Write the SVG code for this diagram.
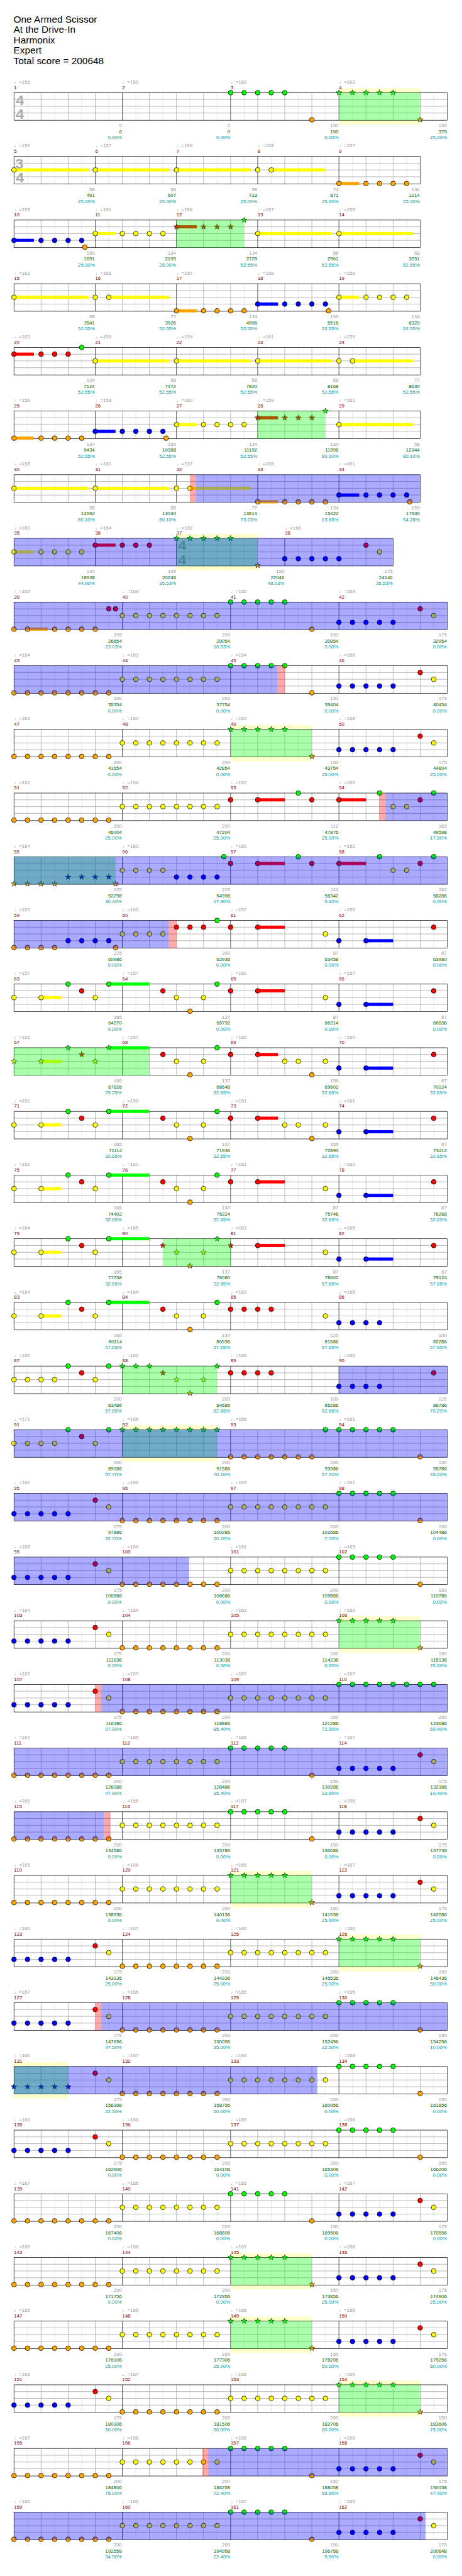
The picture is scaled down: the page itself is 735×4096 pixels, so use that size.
<svg xmlns="http://www.w3.org/2000/svg" xmlns:xlink="http://www.w3.org/1999/xlink" width="735" height="4096" viewBox="0 0 735 4096">
<defs>
<style>
text{font-family:"Liberation Sans","DejaVu Sans",sans-serif;font-size:11px}
.ttl{font-size:21.5px;fill:#000}
.tp{fill:#999}
.mn{fill:#800000}
.gy{fill:#999;text-anchor:end}
.gn{fill:#006400;text-anchor:end}
.tl{fill:#009999;text-anchor:end}
.ts{font-size:32px;font-weight:bold;fill:#aaa}
.lt{stroke:#ddd;fill:none}
.md{stroke:#999;fill:none}
.bk{stroke:#000;fill:none}
.g{fill:#00ff00}.r{fill:#ff0000}.y{fill:#ffff00}.b{fill:#0000ff}.o{fill:#ffa500}
.ob{fill:#0000ff;fill-opacity:.333}
.og{fill:#00ff00;fill-opacity:.333}
.op{fill:#ff0000;fill-opacity:.333}
.yb{fill:#ffffcc}
</style>
<circle id="n" r="5.3" stroke="#000" stroke-width="1"/>
<path id="s" d="M0,-6.5L1.53,-2.1L6.18,-2.01L2.47,0.8L3.82,5.26L0,2.6L-3.82,5.26L-2.47,0.8L-6.18,-2.01L-1.53,-2.1Z" stroke="#000" stroke-width="0.8"/>
<g id="sA">
<rect x="31" y="0" width="900" height="61" fill="#fff"/>
<path class="lt" d="M61 0V61M121 0V61M181 0V61M241 0V61M301 0V61M361 0V61M421 0V61M481 0V61M541 0V61M601 0V61M661 0V61M721 0V61M781 0V61M841 0V61M901 0V61"/>
<path class="md" d="M91 0V61M151 0V61M271 0V61M331 0V61M451 0V61M511 0V61M631 0V61M691 0V61M811 0V61M871 0V61M31 15H931M31 30H931M31 45H931"/>
<path class="bk" d="M211 0V61M391 0V61M571 0V61M751 0V61"/>
<rect class="bk" x="31" y="0" width="900" height="61"/>
</g>
<g id="sB">
<rect x="31" y="0" width="960" height="61" fill="#fff"/>
<path class="lt" d="M61 0V61M121 0V61M181 0V61M241 0V61M301 0V61M361 0V61M421 0V61M481 0V61M541 0V61M601 0V61M661 0V61M721 0V61M781 0V61M841 0V61M901 0V61M961 0V61"/>
<path class="md" d="M91 0V61M151 0V61M211 0V61M331 0V61M391 0V61M451 0V61M571 0V61M631 0V61M691 0V61M811 0V61M871 0V61M931 0V61M31 15H991M31 30H991M31 45H991"/>
<path class="bk" d="M271 0V61M511 0V61M751 0V61"/>
<rect class="bk" x="31" y="0" width="960" height="61"/>
</g>
<g id="sC">
<rect x="31" y="0" width="840" height="61" fill="#fff"/>
<path class="lt" d="M61 0V61M121 0V61M181 0V61M241 0V61M301 0V61M361 0V61M421 0V61M481 0V61M541 0V61M601 0V61M661 0V61M721 0V61M781 0V61M841 0V61"/>
<path class="md" d="M91 0V61M151 0V61M271 0V61M331 0V61M451 0V61M511 0V61M571 0V61M691 0V61M751 0V61M811 0V61M31 15H871M31 30H871M31 45H871"/>
<path class="bk" d="M211 0V61M391 0V61M631 0V61"/>
<rect class="bk" x="31" y="0" width="840" height="61"/>
</g>
<g id="pA"><use href="#n" class="o" x="31" y="60"/><use href="#n" class="o" x="61" y="60"/><use href="#n" class="o" x="91" y="60"/><use href="#n" class="o" x="121" y="60"/><use href="#n" class="o" x="151" y="60"/><use href="#n" class="o" x="181" y="60"/><use href="#n" class="o" x="211" y="60"/><use href="#n" class="o" x="241" y="60"/><use href="#n" class="y" x="271" y="30"/><use href="#n" class="y" x="301" y="30"/><use href="#n" class="y" x="331" y="30"/><use href="#n" class="y" x="361" y="30"/><use href="#n" class="y" x="391" y="30"/><use href="#n" class="y" x="421" y="30"/><use href="#n" class="y" x="451" y="30"/><use href="#n" class="y" x="481" y="30"/></g>
<g id="pG"><use href="#n" class="g" x="511" y="0"/><use href="#n" class="g" x="541" y="0"/><use href="#n" class="g" x="571" y="0"/><use href="#n" class="g" x="601" y="0"/><use href="#n" class="g" x="631" y="0"/><use href="#n" class="o" x="691" y="60"/></g>
<g id="pGs"><use href="#s" class="g" x="511" y="0"/><use href="#s" class="g" x="541" y="0"/><use href="#s" class="g" x="571" y="0"/><use href="#s" class="g" x="601" y="0"/><use href="#s" class="g" x="631" y="0"/><use href="#s" class="o" x="691" y="60"/></g>
<g id="pB"><use href="#n" class="b" x="751" y="45"/><use href="#n" class="b" x="781" y="45"/><use href="#n" class="b" x="811" y="45"/><use href="#n" class="b" x="841" y="45"/><use href="#n" class="b" x="871" y="45"/><use href="#n" class="r" x="931" y="15"/><use href="#n" class="y" x="961" y="30"/></g>
<g id="qA"><use href="#n" class="b" x="31" y="45"/><use href="#n" class="b" x="61" y="45"/><use href="#n" class="b" x="91" y="45"/><use href="#n" class="b" x="121" y="45"/><use href="#n" class="b" x="151" y="45"/><use href="#n" class="r" x="211" y="15"/><use href="#n" class="y" x="241" y="30"/></g>
<g id="qAs"><use href="#s" class="b" x="31" y="45"/><use href="#s" class="b" x="61" y="45"/><use href="#s" class="b" x="91" y="45"/><use href="#s" class="b" x="121" y="45"/><use href="#s" class="b" x="151" y="45"/><use href="#n" class="r" x="211" y="15"/><use href="#n" class="y" x="241" y="30"/></g>
<g id="qO"><use href="#n" class="o" x="271" y="60"/><use href="#n" class="o" x="301" y="60"/><use href="#n" class="o" x="331" y="60"/><use href="#n" class="o" x="361" y="60"/><use href="#n" class="o" x="391" y="60"/><use href="#n" class="o" x="421" y="60"/><use href="#n" class="o" x="451" y="60"/><use href="#n" class="o" x="481" y="60"/></g>
<g id="qY"><use href="#n" class="y" x="511" y="30"/><use href="#n" class="y" x="541" y="30"/><use href="#n" class="y" x="571" y="30"/><use href="#n" class="y" x="601" y="30"/><use href="#n" class="y" x="631" y="30"/><use href="#n" class="y" x="661" y="30"/><use href="#n" class="y" x="691" y="30"/><use href="#n" class="y" x="721" y="30"/></g>
<g id="qG"><use href="#n" class="g" x="751" y="0"/><use href="#n" class="g" x="781" y="0"/><use href="#n" class="g" x="811" y="0"/><use href="#n" class="g" x="841" y="0"/><use href="#n" class="g" x="871" y="0"/><use href="#n" class="o" x="931" y="60"/></g>
<g id="qGs"><use href="#s" class="g" x="751" y="0"/><use href="#s" class="g" x="781" y="0"/><use href="#s" class="g" x="811" y="0"/><use href="#s" class="g" x="841" y="0"/><use href="#s" class="g" x="871" y="0"/><use href="#s" class="o" x="931" y="60"/></g>
</defs>
<rect width="735" height="4096" fill="#fff"/>
<g transform="scale(0.718)">
<g id="title">
<text class="ttl" x="30" y="49.5">One Armed Scissor</text>
<text class="ttl" x="30" y="72.5">At the Drive-In</text>
<text class="ttl" x="30" y="95.5">Harmonix</text>
<text class="ttl" x="30" y="118.5">Expert</text>
<text class="ttl" x="30" y="141.5">Total score = 200648</text>
</g>

<g id="row1" transform="translate(0,205.3)">
<rect class="yb" x="751" y="-10" width="180" height="81"/>
<use href="#sB"/>
<text class="ts" x="35" y="27">4</text><text class="ts" x="35" y="58">4</text>
<text class="tp" x="31" y="-20">♩=156</text><text class="tp" x="271" y="-20">♩=159</text><text class="tp" x="511" y="-20">♩=160</text><text class="tp" x="751" y="-20">♩=162</text>
<text class="mn" x="31" y="-8">1</text><text class="mn" x="271" y="-8">2</text><text class="mn" x="511" y="-8">3</text><text class="mn" x="751" y="-8">4</text>
<use href="#n" class="g" x="511" y="0"/><use href="#n" class="g" x="541" y="0"/><use href="#n" class="g" x="571" y="0"/><use href="#n" class="g" x="601" y="0"/><use href="#n" class="g" x="631" y="0"/>
<use href="#n" class="o" x="691" y="60"/>
<use href="#s" class="g" x="751" y="0"/><use href="#s" class="g" x="781" y="0"/><use href="#s" class="g" x="811" y="0"/><use href="#s" class="g" x="841" y="0"/><use href="#s" class="g" x="871" y="0"/>
<use href="#s" class="o" x="931" y="60"/>
<rect class="og" x="751" y="0" width="180" height="61"/>
<text class="gy" x="270" y="76.5">0</text><text class="gn" x="270" y="90">0</text><text class="tl" x="270" y="103">0.00%</text>
<text class="gy" x="510" y="76.5">0</text><text class="gn" x="510" y="90">0</text><text class="tl" x="510" y="103">0.00%</text>
<text class="gy" x="750" y="76.5">150</text><text class="gn" x="750" y="90">150</text><text class="tl" x="750" y="103">0.00%</text>
<text class="gy" x="990" y="76.5">150</text><text class="gn" x="990" y="90">375</text><text class="tl" x="990" y="103">25.00%</text>
</g>

<g id="row2" transform="translate(0,346.3)">
<use href="#sA"/>
<text class="ts" x="34" y="27">3</text><text class="ts" x="35" y="58">4</text>
<text class="tp" x="31" y="-20">♩=159</text><text class="tp" x="211" y="-20">♩=157</text><text class="tp" x="391" y="-20">♩=159</text><text class="tp" x="571" y="-20">♩=158</text><text class="tp" x="751" y="-20">♩=157</text>
<text class="mn" x="31" y="-8">5</text><text class="mn" x="211" y="-8">6</text><text class="mn" x="391" y="-8">7</text><text class="mn" x="571" y="-8">8</text><text class="mn" x="751" y="-8">9</text>
<rect class="y" x="31" y="26.5" width="165" height="7"/><rect class="y" x="211" y="26.5" width="165" height="7"/><rect class="y" x="391" y="26.5" width="165" height="7"/><rect class="y" x="601" y="26.5" width="120" height="7"/><rect class="o" x="751" y="56.5" width="45" height="7"/>
<use href="#n" class="y" x="31" y="30"/><use href="#n" class="y" x="211" y="30"/><use href="#n" class="y" x="391" y="30"/><use href="#n" class="y" x="571" y="30"/><use href="#n" class="y" x="601" y="30"/>
<use href="#n" class="o" x="751" y="60"/><use href="#n" class="o" x="811" y="60"/><use href="#n" class="o" x="841" y="60"/><use href="#n" class="o" x="871" y="60"/><use href="#n" class="o" x="901" y="60"/>
<text class="gy" x="210" y="76.5">58</text><text class="gn" x="210" y="90">491</text><text class="tl" x="210" y="103">25.00%</text>
<text class="gy" x="390" y="76.5">58</text><text class="gn" x="390" y="90">607</text><text class="tl" x="390" y="103">25.00%</text>
<text class="gy" x="570" y="76.5">58</text><text class="gn" x="570" y="90">723</text><text class="tl" x="570" y="103">25.00%</text>
<text class="gy" x="750" y="76.5">74</text><text class="gn" x="750" y="90">871</text><text class="tl" x="750" y="103">25.00%</text>
<text class="gy" x="930" y="76.5">134</text><text class="gn" x="930" y="90">1214</text><text class="tl" x="930" y="103">25.00%</text>
</g>

<g id="row3" transform="translate(0,487.3)">
<use href="#sA"/>
<text class="tp" x="31" y="-20">♩=158</text><text class="tp" x="211" y="-20">♩=161</text><text class="tp" x="391" y="-20">♩=159</text><text class="tp" x="571" y="-20">♩=157</text><text class="tp" x="751" y="-20">♩=159</text>
<text class="mn" x="31" y="-8">10</text><text class="mn" x="211" y="-8">11</text><text class="mn" x="391" y="-8">12</text><text class="mn" x="571" y="-8">13</text><text class="mn" x="751" y="-8">14</text>
<rect class="b" x="31" y="41.5" width="44" height="7"/><rect class="y" x="211" y="26.5" width="45" height="7"/><rect class="r" x="391" y="11.5" width="45" height="7"/><rect class="y" x="571" y="26.5" width="165" height="7"/><rect class="y" x="751" y="26.5" width="165" height="7"/>
<use href="#n" class="b" x="31" y="45"/><use href="#n" class="b" x="91" y="45"/><use href="#n" class="b" x="121" y="45"/><use href="#n" class="b" x="151" y="45"/><use href="#n" class="b" x="181" y="45"/><use href="#n" class="o" x="188" y="60"/>
<use href="#n" class="y" x="211" y="30"/><use href="#n" class="y" x="271" y="30"/><use href="#n" class="y" x="301" y="30"/><use href="#n" class="y" x="331" y="30"/><use href="#n" class="y" x="361" y="30"/>
<use href="#s" class="r" x="391" y="15"/><use href="#s" class="r" x="451" y="15"/><use href="#s" class="r" x="481" y="15"/><use href="#s" class="r" x="511" y="15"/><use href="#s" class="g" x="541" y="0"/>
<use href="#n" class="y" x="571" y="30"/><use href="#n" class="y" x="751" y="30"/>
<rect class="og" x="391" y="0" width="150" height="61"/>
<text class="gy" x="210" y="76.5">159</text><text class="gn" x="210" y="90">1691</text><text class="tl" x="210" y="103">25.00%</text>
<text class="gy" x="390" y="76.5">134</text><text class="gn" x="390" y="90">2193</text><text class="tl" x="390" y="103">25.00%</text>
<text class="gy" x="570" y="76.5">134</text><text class="gn" x="570" y="90">2729</text><text class="tl" x="570" y="103">52.55%</text>
<text class="gy" x="750" y="76.5">58</text><text class="gn" x="750" y="90">2961</text><text class="tl" x="750" y="103">52.55%</text>
<text class="gy" x="930" y="76.5">58</text><text class="gn" x="930" y="90">3251</text><text class="tl" x="930" y="103">52.55%</text>
</g>

<g id="row4" transform="translate(0,628.3)">
<use href="#sA"/>
<text class="tp" x="31" y="-20">♩=161</text><text class="tp" x="211" y="-20">♩=158</text><text class="tp" x="391" y="-20">♩=157</text><text class="tp" x="571" y="-20">♩=159</text><text class="tp" x="751" y="-20">♩=159</text>
<text class="mn" x="31" y="-8">15</text><text class="mn" x="211" y="-8">16</text><text class="mn" x="391" y="-8">17</text><text class="mn" x="571" y="-8">18</text><text class="mn" x="751" y="-8">19</text>
<rect class="y" x="31" y="26.5" width="165" height="7"/><rect class="y" x="241" y="26.5" width="135" height="7"/><rect class="o" x="391" y="56.5" width="45" height="7"/><rect class="b" x="571" y="41.5" width="45" height="7"/><rect class="y" x="751" y="26.5" width="45" height="7"/>
<use href="#n" class="y" x="31" y="30"/><use href="#n" class="y" x="211" y="30"/><use href="#n" class="y" x="241" y="30"/>
<use href="#n" class="o" x="391" y="60"/><use href="#n" class="o" x="451" y="60"/><use href="#n" class="o" x="481" y="60"/><use href="#n" class="o" x="511" y="60"/><use href="#n" class="o" x="541" y="60"/>
<use href="#n" class="b" x="571" y="45"/><use href="#n" class="b" x="631" y="45"/><use href="#n" class="b" x="661" y="45"/><use href="#n" class="b" x="691" y="45"/><use href="#n" class="b" x="721" y="45"/><use href="#n" class="o" x="728" y="60"/>
<use href="#n" class="y" x="751" y="30"/><use href="#n" class="y" x="811" y="30"/><use href="#n" class="y" x="841" y="30"/><use href="#n" class="y" x="871" y="30"/><use href="#n" class="y" x="901" y="30"/>
<text class="gy" x="210" y="76.5">58</text><text class="gn" x="210" y="90">3541</text><text class="tl" x="210" y="103">52.55%</text>
<text class="gy" x="390" y="76.5">77</text><text class="gn" x="390" y="90">3926</text><text class="tl" x="390" y="103">52.55%</text>
<text class="gy" x="570" y="76.5">134</text><text class="gn" x="570" y="90">4596</text><text class="tl" x="570" y="103">52.55%</text>
<text class="gy" x="750" y="76.5">159</text><text class="gn" x="750" y="90">5516</text><text class="tl" x="750" y="103">52.55%</text>
<text class="gy" x="930" y="76.5">134</text><text class="gn" x="930" y="90">6320</text><text class="tl" x="930" y="103">52.55%</text>
</g>

<g id="row5" transform="translate(0,769.3)">
<use href="#sA"/>
<text class="tp" x="31" y="-20">♩=163</text><text class="tp" x="211" y="-20">♩=155</text><text class="tp" x="391" y="-20">♩=159</text><text class="tp" x="571" y="-20">♩=161</text><text class="tp" x="751" y="-20">♩=159</text>
<text class="mn" x="31" y="-8">20</text><text class="mn" x="211" y="-8">21</text><text class="mn" x="391" y="-8">22</text><text class="mn" x="571" y="-8">23</text><text class="mn" x="751" y="-8">24</text>
<rect class="r" x="31" y="11.5" width="44" height="7"/><rect class="y" x="211" y="26.5" width="165" height="7"/><rect class="y" x="391" y="26.5" width="165" height="7"/><rect class="y" x="571" y="26.5" width="165" height="7"/><rect class="y" x="781" y="26.5" width="135" height="7"/>
<use href="#n" class="r" x="31" y="15"/><use href="#n" class="r" x="91" y="15"/><use href="#n" class="r" x="121" y="15"/><use href="#n" class="r" x="151" y="15"/><use href="#n" class="g" x="181" y="0"/>
<use href="#n" class="y" x="211" y="30"/><use href="#n" class="y" x="391" y="30"/><use href="#n" class="y" x="571" y="30"/><use href="#n" class="y" x="751" y="30"/><use href="#n" class="y" x="781" y="30"/>
<text class="gy" x="210" y="76.5">134</text><text class="gn" x="210" y="90">7124</text><text class="tl" x="210" y="103">52.55%</text>
<text class="gy" x="390" y="76.5">58</text><text class="gn" x="390" y="90">7472</text><text class="tl" x="390" y="103">52.55%</text>
<text class="gy" x="570" y="76.5">58</text><text class="gn" x="570" y="90">7820</text><text class="tl" x="570" y="103">52.55%</text>
<text class="gy" x="750" y="76.5">58</text><text class="gn" x="750" y="90">8168</text><text class="tl" x="750" y="103">52.55%</text>
<text class="gy" x="930" y="76.5">77</text><text class="gn" x="930" y="90">8630</text><text class="tl" x="930" y="103">52.55%</text>
</g>

<g id="row6" transform="translate(0,910.3)">
<use href="#sA"/>
<text class="tp" x="31" y="-20">♩=156</text><text class="tp" x="211" y="-20">♩=158</text><text class="tp" x="391" y="-20">♩=160</text><text class="tp" x="571" y="-20">♩=159</text><text class="tp" x="751" y="-20">♩=161</text>
<text class="mn" x="31" y="-8">25</text><text class="mn" x="211" y="-8">26</text><text class="mn" x="391" y="-8">27</text><text class="mn" x="571" y="-8">28</text><text class="mn" x="751" y="-8">29</text>
<rect class="o" x="31" y="56.5" width="44" height="7"/><rect class="b" x="211" y="41.5" width="45" height="7"/><rect class="y" x="391" y="26.5" width="45" height="7"/><rect class="r" x="571" y="11.5" width="45" height="7"/><rect class="y" x="751" y="26.5" width="165" height="7"/>
<use href="#n" class="o" x="31" y="60"/><use href="#n" class="o" x="91" y="60"/><use href="#n" class="o" x="121" y="60"/><use href="#n" class="o" x="151" y="60"/><use href="#n" class="o" x="181" y="60"/>
<use href="#n" class="b" x="211" y="45"/><use href="#n" class="b" x="271" y="45"/><use href="#n" class="b" x="301" y="45"/><use href="#n" class="b" x="331" y="45"/><use href="#n" class="b" x="361" y="45"/><use href="#n" class="o" x="368" y="60"/>
<use href="#n" class="y" x="391" y="30"/><use href="#n" class="y" x="451" y="30"/><use href="#n" class="y" x="481" y="30"/><use href="#n" class="y" x="511" y="30"/><use href="#n" class="y" x="541" y="30"/>
<use href="#s" class="r" x="571" y="15"/><use href="#s" class="r" x="631" y="15"/><use href="#s" class="r" x="661" y="15"/><use href="#s" class="r" x="691" y="15"/><use href="#s" class="g" x="721" y="0"/>
<use href="#n" class="y" x="751" y="30"/>
<rect class="og" x="571" y="0" width="150" height="61"/>
<text class="gy" x="210" y="76.5">134</text><text class="gn" x="210" y="90">9434</text><text class="tl" x="210" y="103">52.55%</text>
<text class="gy" x="390" y="76.5">159</text><text class="gn" x="390" y="90">10388</text><text class="tl" x="390" y="103">52.55%</text>
<text class="gy" x="570" y="76.5">134</text><text class="gn" x="570" y="90">11192</text><text class="tl" x="570" y="103">52.55%</text>
<text class="gy" x="750" y="76.5">134</text><text class="gn" x="750" y="90">11996</text><text class="tl" x="750" y="103">80.10%</text>
<text class="gy" x="930" y="76.5">58</text><text class="gn" x="930" y="90">12344</text><text class="tl" x="930" y="103">80.10%</text>
</g>

<g id="row7" transform="translate(0,1051.3)">
<use href="#sA"/>
<text class="tp" x="31" y="-20">♩=158</text><text class="tp" x="211" y="-20">♩=161</text><text class="tp" x="391" y="-20">♩=157</text><text class="tp" x="571" y="-20">♩=155</text><text class="tp" x="751" y="-20">♩=161</text>
<text class="mn" x="31" y="-8">30</text><text class="mn" x="211" y="-8">31</text><text class="mn" x="391" y="-8">32</text><text class="mn" x="571" y="-8">33</text><text class="mn" x="751" y="-8">34</text>
<rect class="y" x="31" y="26.5" width="165" height="7"/><rect class="y" x="211" y="26.5" width="165" height="7"/><rect class="y" x="421" y="26.5" width="135" height="7"/><rect class="o" x="571" y="56.5" width="45" height="7"/><rect class="b" x="751" y="41.5" width="45" height="7"/>
<use href="#n" class="y" x="31" y="30"/><use href="#n" class="y" x="211" y="30"/><use href="#n" class="y" x="391" y="30"/><use href="#n" class="y" x="421" y="30"/>
<use href="#n" class="o" x="571" y="60"/><use href="#n" class="o" x="631" y="60"/><use href="#n" class="o" x="661" y="60"/><use href="#n" class="o" x="691" y="60"/><use href="#n" class="o" x="721" y="60"/>
<use href="#n" class="b" x="751" y="45"/><use href="#n" class="b" x="811" y="45"/><use href="#n" class="b" x="841" y="45"/><use href="#n" class="b" x="871" y="45"/><use href="#n" class="b" x="901" y="45"/><use href="#n" class="o" x="908" y="60"/>
<rect class="op" x="421" y="0" width="13" height="61"/><rect class="ob" x="434" y="0" width="497" height="61"/>
<text class="gy" x="210" y="76.5">58</text><text class="gn" x="210" y="90">12692</text><text class="tl" x="210" y="103">80.10%</text>
<text class="gy" x="390" y="76.5">58</text><text class="gn" x="390" y="90">13040</text><text class="tl" x="390" y="103">80.10%</text>
<text class="gy" x="570" y="76.5">77</text><text class="gn" x="570" y="90">13814</text><text class="tl" x="570" y="103">73.03%</text>
<text class="gy" x="750" y="76.5">134</text><text class="gn" x="750" y="90">15422</text><text class="tl" x="750" y="103">63.65%</text>
<text class="gy" x="930" y="76.5">159</text><text class="gn" x="930" y="90">17330</text><text class="tl" x="930" y="103">54.28%</text>
</g>

<g id="row8" transform="translate(0,1192.3)">
<rect class="yb" x="391" y="-10" width="180" height="81"/>
<use href="#sC"/>
<text class="ts" x="395" y="27">4</text><text class="ts" x="395" y="58">4</text>
<text class="tp" x="31" y="-20">♩=160</text><text class="tp" x="211" y="-20">♩=164</text><text class="tp" x="391" y="-20">♩=162</text><text class="tp" x="631" y="-20">♩=166</text>
<text class="mn" x="31" y="-8">35</text><text class="mn" x="211" y="-8">36</text><text class="mn" x="391" y="-8">37</text><text class="mn" x="631" y="-8">38</text>
<rect class="y" x="31" y="26.5" width="44" height="7"/><rect class="r" x="211" y="11.5" width="45" height="7"/>
<use href="#n" class="y" x="31" y="30"/><use href="#n" class="y" x="91" y="30"/><use href="#n" class="y" x="121" y="30"/><use href="#n" class="y" x="151" y="30"/><use href="#n" class="y" x="181" y="30"/>
<use href="#n" class="r" x="211" y="15"/><use href="#n" class="r" x="271" y="15"/><use href="#n" class="r" x="301" y="15"/><use href="#n" class="r" x="331" y="15"/>
<use href="#s" class="g" x="391" y="0"/><use href="#s" class="g" x="421" y="0"/><use href="#s" class="g" x="451" y="0"/><use href="#s" class="g" x="481" y="0"/><use href="#s" class="g" x="511" y="0"/><use href="#s" class="o" x="571" y="60"/>
<use href="#n" class="b" x="631" y="45"/><use href="#n" class="b" x="661" y="45"/><use href="#n" class="b" x="691" y="45"/><use href="#n" class="b" x="721" y="45"/><use href="#n" class="b" x="751" y="45"/>
<use href="#n" class="r" x="811" y="15"/><use href="#n" class="y" x="841" y="30"/>
<rect class="og" x="391" y="0" width="180" height="61"/><rect class="ob" x="31" y="0" width="840" height="61"/>
<text class="gy" x="210" y="76.5">134</text><text class="gn" x="210" y="90">18938</text><text class="tl" x="210" y="103">44.90%</text>
<text class="gy" x="390" y="76.5">109</text><text class="gn" x="390" y="90">20246</text><text class="tl" x="390" y="103">35.53%</text>
<text class="gy" x="630" y="76.5">150</text><text class="gn" x="630" y="90">22046</text><text class="tl" x="630" y="103">48.03%</text>
<text class="gy" x="870" y="76.5">175</text><text class="gn" x="870" y="90">24146</text><text class="tl" x="870" y="103">35.53%</text>
</g>

<g id="row9" transform="translate(0,1333.3)">
<use href="#sB"/>
<text class="tp" x="31" y="-20">♩=165</text><text class="tp" x="271" y="-20">♩=163</text><text class="tp" x="511" y="-20">♩=165</text><text class="tp" x="751" y="-20">♩=169</text>
<text class="mn" x="31" y="-8">39</text><text class="mn" x="271" y="-8">40</text><text class="mn" x="511" y="-8">41</text><text class="mn" x="751" y="-8">42</text>
<rect class="o" x="61" y="56.5" width="45" height="7"/>
<use href="#n" class="o" x="31" y="60"/><use href="#n" class="o" x="61" y="60"/><use href="#n" class="o" x="121" y="60"/><use href="#n" class="o" x="151" y="60"/><use href="#n" class="o" x="181" y="60"/><use href="#n" class="o" x="211" y="60"/>
<use href="#n" class="r" x="241" y="15"/><use href="#n" class="r" x="256" y="15"/>
<use href="#n" class="y" x="271" y="30"/><use href="#n" class="y" x="301" y="30"/><use href="#n" class="y" x="331" y="30"/><use href="#n" class="y" x="361" y="30"/><use href="#n" class="y" x="391" y="30"/><use href="#n" class="y" x="421" y="30"/><use href="#n" class="y" x="451" y="30"/><use href="#n" class="y" x="481" y="30"/>
<use href="#n" class="g" x="511" y="0"/><use href="#n" class="g" x="541" y="0"/><use href="#n" class="g" x="571" y="0"/><use href="#n" class="g" x="601" y="0"/><use href="#n" class="g" x="631" y="0"/>
<use href="#n" class="o" x="691" y="60"/>
<use href="#n" class="b" x="751" y="45"/><use href="#n" class="b" x="781" y="45"/><use href="#n" class="b" x="811" y="45"/><use href="#n" class="b" x="841" y="45"/><use href="#n" class="b" x="871" y="45"/>
<use href="#n" class="r" x="931" y="15"/><use href="#n" class="y" x="961" y="30"/>
<rect class="ob" x="31" y="0" width="960" height="61"/>
<text class="gy" x="270" y="76.5">209</text><text class="gn" x="270" y="90">26654</text><text class="tl" x="270" y="103">23.03%</text>
<text class="gy" x="510" y="76.5">200</text><text class="gn" x="510" y="90">29054</text><text class="tl" x="510" y="103">10.53%</text>
<text class="gy" x="750" y="76.5">150</text><text class="gn" x="750" y="90">30854</text><text class="tl" x="750" y="103">0.00%</text>
<text class="gy" x="990" y="76.5">175</text><text class="gn" x="990" y="90">32954</text><text class="tl" x="990" y="103">0.00%</text>
</g>

<g id="row10" transform="translate(0,1474.3)">
<use href="#sB"/>
<text class="tp" x="31" y="-20">♩=164</text><text class="tp" x="271" y="-20">♩=163</text><text class="tp" x="511" y="-20">♩=164</text><text class="tp" x="751" y="-20">♩=166</text>
<text class="mn" x="31" y="-8">43</text><text class="mn" x="271" y="-8">44</text><text class="mn" x="511" y="-8">45</text><text class="mn" x="751" y="-8">46</text>
<use href="#pA"/><use href="#pG"/><use href="#pB"/>
<rect class="ob" x="31" y="0" width="584" height="61"/><rect class="op" x="615" y="0" width="16.5" height="61"/>
<text class="gy" x="270" y="76.5">200</text><text class="gn" x="270" y="90">35354</text><text class="tl" x="270" y="103">0.00%</text>
<text class="gy" x="510" y="76.5">200</text><text class="gn" x="510" y="90">37754</text><text class="tl" x="510" y="103">0.00%</text>
<text class="gy" x="750" y="76.5">150</text><text class="gn" x="750" y="90">39404</text><text class="tl" x="750" y="103">0.00%</text>
<text class="gy" x="990" y="76.5">175</text><text class="gn" x="990" y="90">40454</text><text class="tl" x="990" y="103">0.00%</text>
</g>

<g id="row11" transform="translate(0,1615.3)">
<rect class="yb" x="511" y="-10" width="180" height="81"/>
<use href="#sB"/>
<text class="tp" x="31" y="-20">♩=163</text><text class="tp" x="271" y="-20">♩=162</text><text class="tp" x="511" y="-20">♩=163</text><text class="tp" x="751" y="-20">♩=168</text>
<text class="mn" x="31" y="-8">47</text><text class="mn" x="271" y="-8">48</text><text class="mn" x="511" y="-8">49</text><text class="mn" x="751" y="-8">50</text>
<use href="#pA"/><use href="#pGs"/><use href="#pB"/>
<rect class="og" x="511" y="0" width="180" height="61"/>
<text class="gy" x="270" y="76.5">200</text><text class="gn" x="270" y="90">41654</text><text class="tl" x="270" y="103">0.00%</text>
<text class="gy" x="510" y="76.5">200</text><text class="gn" x="510" y="90">42854</text><text class="tl" x="510" y="103">0.00%</text>
<text class="gy" x="750" y="76.5">150</text><text class="gn" x="750" y="90">43754</text><text class="tl" x="750" y="103">25.00%</text>
<text class="gy" x="990" y="76.5">175</text><text class="gn" x="990" y="90">44804</text><text class="tl" x="990" y="103">25.00%</text>
</g>

<g id="row12" transform="translate(0,1756.3)">
<use href="#sB"/>
<text class="tp" x="31" y="-20">♩=162</text><text class="tp" x="271" y="-20">♩=166</text><text class="tp" x="511" y="-20">♩=157</text><text class="tp" x="751" y="-20">♩=162</text>
<text class="mn" x="31" y="-8">51</text><text class="mn" x="271" y="-8">52</text><text class="mn" x="511" y="-8">53</text><text class="mn" x="751" y="-8">54</text>
<rect class="r" x="571" y="11.5" width="60" height="7"/><rect class="r" x="751" y="11.5" width="60" height="7"/>
<use href="#pA"/>
<use href="#n" class="r" x="511" y="15"/><use href="#n" class="r" x="571" y="15"/><use href="#n" class="g" x="661" y="0"/><use href="#n" class="r" x="691" y="15"/><use href="#n" class="r" x="751" y="15"/>
<use href="#n" class="g" x="841" y="0"/><use href="#n" class="y" x="871" y="30"/><use href="#n" class="y" x="901" y="30"/><use href="#n" class="r" x="931" y="15"/><use href="#n" class="g" x="961" y="0"/>
<rect class="op" x="840" y="0" width="14" height="61"/><rect class="ob" x="854" y="0" width="137" height="61"/>
<text class="gy" x="270" y="76.5">200</text><text class="gn" x="270" y="90">46004</text><text class="tl" x="270" y="103">25.00%</text>
<text class="gy" x="510" y="76.5">200</text><text class="gn" x="510" y="90">47204</text><text class="tl" x="510" y="103">25.00%</text>
<text class="gy" x="750" y="76.5">112</text><text class="gn" x="750" y="90">47876</text><text class="tl" x="750" y="103">25.00%</text>
<text class="gy" x="990" y="76.5">162</text><text class="gn" x="990" y="90">49598</text><text class="tl" x="990" y="103">17.90%</text>
</g>

<g id="row13" transform="translate(0,1897.3)">
<use href="#sB"/>
<text class="tp" x="31" y="-20">♩=164</text><text class="tp" x="271" y="-20">♩=162</text><text class="tp" x="511" y="-20">♩=160</text><text class="tp" x="751" y="-20">♩=162</text>
<text class="mn" x="31" y="-8">55</text><text class="mn" x="271" y="-8">56</text><text class="mn" x="511" y="-8">57</text><text class="mn" x="751" y="-8">58</text>
<rect class="r" x="571" y="11.5" width="60" height="7"/><rect class="r" x="751" y="11.5" width="60" height="7"/>
<use href="#s" class="o" x="31" y="60"/><use href="#s" class="o" x="61" y="60"/><use href="#s" class="o" x="91" y="60"/><use href="#s" class="o" x="121" y="60"/>
<use href="#s" class="b" x="151" y="45"/><use href="#s" class="b" x="181" y="45"/><use href="#s" class="b" x="211" y="45"/><use href="#s" class="b" x="241" y="45"/><use href="#s" class="o" x="256" y="60"/>
<use href="#n" class="y" x="271" y="30"/><use href="#n" class="y" x="301" y="30"/><use href="#n" class="y" x="331" y="30"/><use href="#n" class="y" x="361" y="30"/>
<use href="#n" class="b" x="391" y="45"/><use href="#n" class="b" x="421" y="45"/><use href="#n" class="b" x="451" y="45"/><use href="#n" class="b" x="481" y="45"/><use href="#n" class="g" x="496" y="0"/>
<use href="#n" class="r" x="511" y="15"/><use href="#n" class="r" x="571" y="15"/><use href="#n" class="g" x="661" y="0"/><use href="#n" class="r" x="691" y="15"/><use href="#n" class="r" x="751" y="15"/>
<use href="#n" class="g" x="841" y="0"/><use href="#n" class="y" x="871" y="30"/><use href="#n" class="y" x="901" y="30"/><use href="#n" class="r" x="931" y="15"/><use href="#n" class="g" x="961" y="0"/>
<rect class="og" x="31" y="0" width="225" height="61"/><rect class="ob" x="31" y="0" width="960" height="61"/>
<text class="gy" x="270" y="76.5">225</text><text class="gn" x="270" y="90">52298</text><text class="tl" x="270" y="103">30.40%</text>
<text class="gy" x="510" y="76.5">225</text><text class="gn" x="510" y="90">54998</text><text class="tl" x="510" y="103">17.90%</text>
<text class="gy" x="750" y="76.5">112</text><text class="gn" x="750" y="90">56342</text><text class="tl" x="750" y="103">5.40%</text>
<text class="gy" x="990" y="76.5">162</text><text class="gn" x="990" y="90">58286</text><text class="tl" x="990" y="103">0.00%</text>
</g>

<g id="row14" transform="translate(0,2038.3)">
<use href="#sB"/>
<text class="tp" x="31" y="-20">♩=163</text><text class="tp" x="271" y="-20">♩=165</text><text class="tp" x="511" y="-20">♩=157</text><text class="tp" x="751" y="-20">♩=159</text>
<text class="mn" x="31" y="-8">59</text><text class="mn" x="271" y="-8">60</text><text class="mn" x="511" y="-8">61</text><text class="mn" x="751" y="-8">62</text>
<rect class="r" x="571" y="11.5" width="60" height="7"/><rect class="b" x="811" y="41.5" width="60" height="7"/>
<use href="#n" class="o" x="31" y="60"/><use href="#n" class="o" x="61" y="60"/><use href="#n" class="o" x="91" y="60"/><use href="#n" class="o" x="121" y="60"/>
<use href="#n" class="b" x="151" y="45"/><use href="#n" class="b" x="181" y="45"/><use href="#n" class="b" x="211" y="45"/><use href="#n" class="b" x="241" y="45"/><use href="#n" class="o" x="256" y="60"/>
<use href="#n" class="y" x="271" y="30"/><use href="#n" class="y" x="301" y="30"/><use href="#n" class="y" x="331" y="30"/><use href="#n" class="y" x="361" y="30"/>
<use href="#n" class="r" x="391" y="15"/><use href="#n" class="r" x="421" y="15"/><use href="#n" class="r" x="451" y="15"/><use href="#n" class="g" x="481" y="0"/><use href="#n" class="r" x="511" y="15"/><use href="#n" class="r" x="571" y="15"/>
<use href="#n" class="y" x="721" y="30"/><use href="#n" class="b" x="751" y="45"/><use href="#n" class="b" x="811" y="45"/><use href="#n" class="r" x="961" y="15"/>
<rect class="ob" x="31" y="0" width="343" height="61"/><rect class="op" x="374" y="0" width="17" height="61"/>
<text class="gy" x="270" y="76.5">225</text><text class="gn" x="270" y="90">60986</text><text class="tl" x="270" y="103">0.00%</text>
<text class="gy" x="510" y="76.5">200</text><text class="gn" x="510" y="90">62936</text><text class="tl" x="510" y="103">0.00%</text>
<text class="gy" x="750" y="76.5">87</text><text class="gn" x="750" y="90">63458</text><text class="tl" x="750" y="103">0.00%</text>
<text class="gy" x="990" y="76.5">87</text><text class="gn" x="990" y="90">63980</text><text class="tl" x="990" y="103">0.00%</text>
</g>

<g id="row15" transform="translate(0,2179.3)">
<use href="#sB"/>
<text class="tp" x="31" y="-20">♩=157</text><text class="tp" x="271" y="-20">♩=157</text><text class="tp" x="511" y="-20">♩=160</text><text class="tp" x="751" y="-20">♩=157</text>
<text class="mn" x="31" y="-8">63</text><text class="mn" x="271" y="-8">64</text><text class="mn" x="511" y="-8">65</text><text class="mn" x="751" y="-8">66</text>
<rect class="y" x="91" y="26.5" width="45" height="7"/><rect class="g" x="241" y="-3.5" width="90" height="7"/><rect class="r" x="571" y="11.5" width="60" height="7"/><rect class="b" x="811" y="41.5" width="60" height="7"/>
<use href="#n" class="y" x="31" y="30"/><use href="#n" class="y" x="91" y="30"/><use href="#n" class="g" x="151" y="0"/><use href="#n" class="r" x="181" y="15"/><use href="#n" class="y" x="211" y="30"/><use href="#n" class="g" x="241" y="0"/>
<use href="#n" class="r" x="361" y="15"/><use href="#n" class="y" x="391" y="30"/><use href="#n" class="o" x="421" y="60"/><use href="#n" class="y" x="451" y="30"/><use href="#n" class="g" x="481" y="0"/>
<use href="#n" class="r" x="511" y="15"/><use href="#n" class="r" x="571" y="15"/><use href="#n" class="y" x="721" y="30"/><use href="#n" class="b" x="751" y="45"/><use href="#n" class="b" x="811" y="45"/><use href="#n" class="r" x="961" y="15"/>
<text class="gy" x="270" y="76.5">165</text><text class="gn" x="270" y="90">64970</text><text class="tl" x="270" y="103">0.00%</text>
<text class="gy" x="510" y="76.5">137</text><text class="gn" x="510" y="90">65792</text><text class="tl" x="510" y="103">0.00%</text>
<text class="gy" x="750" y="76.5">87</text><text class="gn" x="750" y="90">66314</text><text class="tl" x="750" y="103">0.00%</text>
<text class="gy" x="990" y="76.5">87</text><text class="gn" x="990" y="90">66836</text><text class="tl" x="990" y="103">0.00%</text>
</g>

<g id="row16" transform="translate(0,2320.3)">
<use href="#sB"/>
<text class="tp" x="31" y="-20">♩=161</text><text class="tp" x="271" y="-20">♩=157</text><text class="tp" x="511" y="-20">♩=160</text><text class="tp" x="751" y="-20">♩=160</text>
<text class="mn" x="31" y="-8">67</text><text class="mn" x="271" y="-8">68</text><text class="mn" x="511" y="-8">69</text><text class="mn" x="751" y="-8">70</text>
<rect class="y" x="91" y="26.5" width="45" height="7"/><rect class="g" x="241" y="-3.5" width="90" height="7"/><rect class="r" x="571" y="11.5" width="45" height="7"/><rect class="b" x="811" y="41.5" width="60" height="7"/>
<use href="#s" class="y" x="31" y="30"/><use href="#s" class="y" x="91" y="30"/><use href="#s" class="g" x="151" y="0"/><use href="#s" class="r" x="181" y="15"/><use href="#s" class="y" x="211" y="30"/><use href="#s" class="g" x="241" y="0"/>
<use href="#n" class="r" x="361" y="15"/><use href="#n" class="y" x="391" y="30"/><use href="#n" class="o" x="421" y="60"/><use href="#n" class="y" x="451" y="30"/><use href="#n" class="g" x="481" y="0"/>
<use href="#n" class="r" x="511" y="15"/><use href="#n" class="r" x="571" y="15"/><use href="#n" class="y" x="631" y="30"/><use href="#n" class="y" x="661" y="30"/><use href="#n" class="o" x="691" y="60"/><use href="#n" class="y" x="721" y="30"/>
<use href="#n" class="b" x="751" y="45"/><use href="#n" class="b" x="811" y="45"/><use href="#n" class="r" x="961" y="15"/>
<rect class="og" x="31" y="0" width="300" height="61"/>
<text class="gy" x="270" y="76.5">165</text><text class="gn" x="270" y="90">67826</text><text class="tl" x="270" y="103">29.25%</text>
<text class="gy" x="510" y="76.5">137</text><text class="gn" x="510" y="90">68648</text><text class="tl" x="510" y="103">32.65%</text>
<text class="gy" x="750" y="76.5">159</text><text class="gn" x="750" y="90">69602</text><text class="tl" x="750" y="103">32.65%</text>
<text class="gy" x="990" y="76.5">87</text><text class="gn" x="990" y="90">70124</text><text class="tl" x="990" y="103">32.65%</text>
</g>

<g id="row17" transform="translate(0,2461.3)">
<use href="#sB"/>
<text class="tp" x="31" y="-20">♩=160</text><text class="tp" x="271" y="-20">♩=155</text><text class="tp" x="511" y="-20">♩=161</text><text class="tp" x="751" y="-20">♩=161</text>
<text class="mn" x="31" y="-8">71</text><text class="mn" x="271" y="-8">72</text><text class="mn" x="511" y="-8">73</text><text class="mn" x="751" y="-8">74</text>
<rect class="y" x="91" y="26.5" width="45" height="7"/><rect class="g" x="241" y="-3.5" width="90" height="7"/><rect class="r" x="571" y="11.5" width="45" height="7"/><rect class="b" x="811" y="41.5" width="60" height="7"/>
<use href="#n" class="y" x="31" y="30"/><use href="#n" class="y" x="91" y="30"/><use href="#n" class="g" x="151" y="0"/><use href="#n" class="r" x="181" y="15"/><use href="#n" class="y" x="211" y="30"/><use href="#n" class="g" x="241" y="0"/>
<use href="#n" class="r" x="361" y="15"/><use href="#n" class="y" x="391" y="30"/><use href="#n" class="o" x="421" y="60"/><use href="#n" class="y" x="451" y="30"/><use href="#n" class="g" x="481" y="0"/>
<use href="#n" class="r" x="511" y="15"/><use href="#n" class="r" x="571" y="15"/><use href="#n" class="y" x="631" y="30"/><use href="#n" class="y" x="661" y="30"/><use href="#n" class="o" x="691" y="60"/><use href="#n" class="y" x="721" y="30"/>
<use href="#n" class="b" x="751" y="45"/><use href="#n" class="b" x="811" y="45"/><use href="#n" class="r" x="961" y="15"/>
<text class="gy" x="270" y="76.5">165</text><text class="gn" x="270" y="90">71114</text><text class="tl" x="270" y="103">32.65%</text>
<text class="gy" x="510" y="76.5">137</text><text class="gn" x="510" y="90">71936</text><text class="tl" x="510" y="103">32.65%</text>
<text class="gy" x="750" y="76.5">159</text><text class="gn" x="750" y="90">72890</text><text class="tl" x="750" y="103">32.65%</text>
<text class="gy" x="990" y="76.5">87</text><text class="gn" x="990" y="90">73412</text><text class="tl" x="990" y="103">32.65%</text>
</g>

<g id="row18" transform="translate(0,2602.3)">
<use href="#sB"/>
<text class="tp" x="31" y="-20">♩=161</text><text class="tp" x="271" y="-20">♩=161</text><text class="tp" x="511" y="-20">♩=161</text><text class="tp" x="751" y="-20">♩=162</text>
<text class="mn" x="31" y="-8">75</text><text class="mn" x="271" y="-8">76</text><text class="mn" x="511" y="-8">77</text><text class="mn" x="751" y="-8">78</text>
<rect class="y" x="91" y="26.5" width="45" height="7"/><rect class="g" x="241" y="-3.5" width="90" height="7"/><rect class="r" x="571" y="11.5" width="60" height="7"/><rect class="b" x="811" y="41.5" width="60" height="7"/>
<use href="#n" class="y" x="31" y="30"/><use href="#n" class="y" x="91" y="30"/><use href="#n" class="g" x="151" y="0"/><use href="#n" class="r" x="181" y="15"/><use href="#n" class="y" x="211" y="30"/><use href="#n" class="g" x="241" y="0"/>
<use href="#n" class="r" x="361" y="15"/><use href="#n" class="y" x="391" y="30"/><use href="#n" class="o" x="421" y="60"/><use href="#n" class="y" x="451" y="30"/><use href="#n" class="g" x="481" y="0"/>
<use href="#n" class="r" x="511" y="15"/><use href="#n" class="r" x="571" y="15"/><use href="#n" class="y" x="721" y="30"/><use href="#n" class="b" x="751" y="45"/><use href="#n" class="b" x="811" y="45"/><use href="#n" class="r" x="961" y="15"/>
<text class="gy" x="270" y="76.5">165</text><text class="gn" x="270" y="90">74402</text><text class="tl" x="270" y="103">32.65%</text>
<text class="gy" x="510" y="76.5">137</text><text class="gn" x="510" y="90">75224</text><text class="tl" x="510" y="103">32.65%</text>
<text class="gy" x="750" y="76.5">87</text><text class="gn" x="750" y="90">75746</text><text class="tl" x="750" y="103">32.65%</text>
<text class="gy" x="990" y="76.5">87</text><text class="gn" x="990" y="90">76268</text><text class="tl" x="990" y="103">32.65%</text>
</g>

<g id="row19" transform="translate(0,2743.3)">
<use href="#sB"/>
<text class="tp" x="31" y="-20">♩=164</text><text class="tp" x="271" y="-20">♩=165</text><text class="tp" x="511" y="-20">♩=163</text><text class="tp" x="751" y="-20">♩=165</text>
<text class="mn" x="31" y="-8">79</text><text class="mn" x="271" y="-8">80</text><text class="mn" x="511" y="-8">81</text><text class="mn" x="751" y="-8">82</text>
<rect class="y" x="91" y="26.5" width="45" height="7"/><rect class="g" x="241" y="-3.5" width="90" height="7"/><rect class="r" x="571" y="11.5" width="60" height="7"/><rect class="b" x="811" y="41.5" width="60" height="7"/>
<use href="#n" class="y" x="31" y="30"/><use href="#n" class="y" x="91" y="30"/><use href="#n" class="g" x="151" y="0"/><use href="#n" class="r" x="181" y="15"/><use href="#n" class="y" x="211" y="30"/><use href="#n" class="g" x="241" y="0"/>
<use href="#s" class="r" x="361" y="15"/><use href="#s" class="y" x="391" y="30"/><use href="#s" class="o" x="421" y="60"/><use href="#s" class="y" x="451" y="30"/><use href="#s" class="g" x="481" y="0"/><use href="#s" class="r" x="511" y="15"/>
<use href="#n" class="r" x="571" y="15"/><use href="#n" class="y" x="721" y="30"/><use href="#n" class="b" x="751" y="45"/><use href="#n" class="b" x="811" y="45"/><use href="#n" class="r" x="961" y="15"/>
<rect class="og" x="361" y="0" width="150" height="61"/>
<text class="gy" x="270" y="76.5">165</text><text class="gn" x="270" y="90">77258</text><text class="tl" x="270" y="103">32.65%</text>
<text class="gy" x="510" y="76.5">137</text><text class="gn" x="510" y="90">78080</text><text class="tl" x="510" y="103">32.65%</text>
<text class="gy" x="750" y="76.5">87</text><text class="gn" x="750" y="90">78602</text><text class="tl" x="750" y="103">57.65%</text>
<text class="gy" x="990" y="76.5">87</text><text class="gn" x="990" y="90">79124</text><text class="tl" x="990" y="103">57.65%</text>
</g>

<g id="row20" transform="translate(0,2884.3)">
<use href="#sB"/>
<text class="tp" x="31" y="-20">♩=164</text><text class="tp" x="271" y="-20">♩=164</text><text class="tp" x="511" y="-20">♩=163</text><text class="tp" x="751" y="-20">♩=165</text>
<text class="mn" x="31" y="-8">83</text><text class="mn" x="271" y="-8">84</text><text class="mn" x="511" y="-8">85</text><text class="mn" x="751" y="-8">86</text>
<rect class="y" x="91" y="26.5" width="45" height="7"/><rect class="g" x="241" y="-3.5" width="90" height="7"/>
<use href="#n" class="y" x="31" y="30"/><use href="#n" class="y" x="91" y="30"/><use href="#n" class="g" x="151" y="0"/><use href="#n" class="r" x="181" y="15"/><use href="#n" class="y" x="211" y="30"/><use href="#n" class="g" x="241" y="0"/>
<use href="#n" class="r" x="361" y="15"/><use href="#n" class="y" x="391" y="30"/><use href="#n" class="o" x="421" y="60"/><use href="#n" class="y" x="451" y="30"/><use href="#n" class="g" x="481" y="0"/>
<use href="#n" class="r" x="511" y="15"/><use href="#n" class="r" x="541" y="15"/><use href="#n" class="r" x="571" y="15"/><use href="#n" class="r" x="601" y="15"/><use href="#n" class="y" x="721" y="30"/>
<use href="#n" class="b" x="751" y="45"/><use href="#n" class="b" x="781" y="45"/><use href="#n" class="b" x="811" y="45"/><use href="#n" class="b" x="841" y="45"/>
<text class="gy" x="270" y="76.5">165</text><text class="gn" x="270" y="90">80114</text><text class="tl" x="270" y="103">57.65%</text>
<text class="gy" x="510" y="76.5">137</text><text class="gn" x="510" y="90">80936</text><text class="tl" x="510" y="103">57.65%</text>
<text class="gy" x="750" y="76.5">125</text><text class="gn" x="750" y="90">81686</text><text class="tl" x="750" y="103">57.65%</text>
<text class="gy" x="990" y="76.5">100</text><text class="gn" x="990" y="90">82286</text><text class="tl" x="990" y="103">57.65%</text>
</g>

<g id="row21" transform="translate(0,3025.3)">
<use href="#sB"/>
<text class="tp" x="31" y="-20">♩=166</text><text class="tp" x="271" y="-20">♩=166</text><text class="tp" x="511" y="-20">♩=166</text><text class="tp" x="751" y="-20">♩=166</text>
<text class="mn" x="31" y="-8">87</text><text class="mn" x="271" y="-8">88</text><text class="mn" x="511" y="-8">89</text><text class="mn" x="751" y="-8">90</text>
<use href="#n" class="y" x="31" y="30"/><use href="#n" class="y" x="61" y="30"/><use href="#n" class="y" x="91" y="30"/><use href="#n" class="y" x="121" y="30"/><use href="#n" class="g" x="151" y="0"/><use href="#n" class="r" x="181" y="15"/><use href="#n" class="y" x="211" y="30"/><use href="#n" class="g" x="241" y="0"/>
<use href="#s" class="g" x="271" y="0"/><use href="#s" class="g" x="301" y="0"/><use href="#s" class="g" x="331" y="0"/><use href="#s" class="r" x="361" y="15"/><use href="#s" class="y" x="391" y="30"/><use href="#s" class="o" x="421" y="60"/><use href="#s" class="y" x="451" y="30"/><use href="#s" class="g" x="481" y="0"/>
<use href="#n" class="r" x="511" y="15"/><use href="#n" class="r" x="541" y="15"/><use href="#n" class="r" x="571" y="15"/><use href="#n" class="r" x="601" y="15"/>
<use href="#n" class="b" x="751" y="45"/><use href="#n" class="b" x="781" y="45"/><use href="#n" class="b" x="811" y="45"/><use href="#n" class="b" x="841" y="45"/><use href="#n" class="r" x="961" y="15"/>
<rect class="og" x="271" y="0" width="210" height="61"/><rect class="ob" x="751" y="0" width="240" height="61"/>
<text class="gy" x="270" y="76.5">200</text><text class="gn" x="270" y="90">83486</text><text class="tl" x="270" y="103">57.65%</text>
<text class="gy" x="510" y="76.5">200</text><text class="gn" x="510" y="90">84686</text><text class="tl" x="510" y="103">82.65%</text>
<text class="gy" x="750" y="76.5">100</text><text class="gn" x="750" y="90">85286</text><text class="tl" x="750" y="103">82.65%</text>
<text class="gy" x="990" y="76.5">125</text><text class="gn" x="990" y="90">86786</text><text class="tl" x="990" y="103">70.20%</text>
</g>

<g id="row22" transform="translate(0,3166.3)">
<rect class="yb" x="271" y="-10" width="210" height="81"/>
<use href="#sB"/>
<text class="tp" x="31" y="-20">♩=171</text><text class="tp" x="271" y="-20">♩=166</text><text class="tp" x="511" y="-20">♩=166</text><text class="tp" x="751" y="-20">♩=161</text>
<text class="mn" x="31" y="-8">91</text><text class="mn" x="271" y="-8">92</text><text class="mn" x="511" y="-8">93</text><text class="mn" x="751" y="-8">94</text>
<use href="#n" class="y" x="31" y="30"/><use href="#n" class="y" x="61" y="30"/><use href="#n" class="y" x="91" y="30"/><use href="#n" class="y" x="121" y="30"/><use href="#n" class="g" x="151" y="0"/><use href="#n" class="r" x="181" y="15"/><use href="#n" class="y" x="211" y="30"/><use href="#n" class="g" x="241" y="0"/>
<use href="#s" class="g" x="271" y="0"/><use href="#s" class="g" x="301" y="0"/><use href="#s" class="g" x="331" y="0"/><use href="#s" class="g" x="361" y="0"/><use href="#s" class="g" x="391" y="0"/><use href="#s" class="g" x="421" y="0"/><use href="#s" class="g" x="451" y="0"/><use href="#s" class="g" x="481" y="0"/>
<use href="#n" class="o" x="511" y="60"/><use href="#n" class="o" x="541" y="60"/><use href="#n" class="o" x="571" y="60"/><use href="#n" class="o" x="601" y="60"/><use href="#n" class="o" x="631" y="60"/><use href="#n" class="o" x="661" y="60"/><use href="#n" class="o" x="691" y="60"/>
<use href="#n" class="g" x="721" y="0"/><use href="#n" class="g" x="751" y="0"/><use href="#n" class="g" x="781" y="0"/><use href="#n" class="g" x="811" y="0"/><use href="#n" class="g" x="841" y="0"/><use href="#n" class="g" x="871" y="0"/><use href="#n" class="o" x="931" y="60"/>
<rect class="og" x="271" y="0" width="210" height="61"/><rect class="ob" x="31" y="0" width="960" height="61"/>
<text class="gy" x="270" y="76.5">200</text><text class="gn" x="270" y="90">89186</text><text class="tl" x="270" y="103">57.70%</text>
<text class="gy" x="510" y="76.5">200</text><text class="gn" x="510" y="90">91586</text><text class="tl" x="510" y="103">70.20%</text>
<text class="gy" x="750" y="76.5">200</text><text class="gn" x="750" y="90">93986</text><text class="tl" x="750" y="103">57.70%</text>
<text class="gy" x="990" y="76.5">150</text><text class="gn" x="990" y="90">95786</text><text class="tl" x="990" y="103">45.20%</text>
</g>

<g id="row23" transform="translate(0,3307.3)">
<use href="#sB"/>
<text class="tp" x="31" y="-20">♩=166</text><text class="tp" x="271" y="-20">♩=166</text><text class="tp" x="511" y="-20">♩=163</text><text class="tp" x="751" y="-20">♩=161</text>
<text class="mn" x="31" y="-8">95</text><text class="mn" x="271" y="-8">96</text><text class="mn" x="511" y="-8">97</text><text class="mn" x="751" y="-8">98</text>
<use href="#qA"/><use href="#qO"/><use href="#qY"/><use href="#qG"/>
<rect class="ob" x="31" y="0" width="960" height="61"/>
<text class="gy" x="270" y="76.5">175</text><text class="gn" x="270" y="90">97886</text><text class="tl" x="270" y="103">32.70%</text>
<text class="gy" x="510" y="76.5">200</text><text class="gn" x="510" y="90">100286</text><text class="tl" x="510" y="103">20.20%</text>
<text class="gy" x="750" y="76.5">200</text><text class="gn" x="750" y="90">102686</text><text class="tl" x="750" y="103">7.70%</text>
<text class="gy" x="990" y="76.5">150</text><text class="gn" x="990" y="90">104486</text><text class="tl" x="990" y="103">0.00%</text>
</g>

<g id="row24" transform="translate(0,3448.3)">
<use href="#sB"/>
<text class="tp" x="31" y="-20">♩=168</text><text class="tp" x="271" y="-20">♩=165</text><text class="tp" x="511" y="-20">♩=161</text><text class="tp" x="751" y="-20">♩=163</text>
<text class="mn" x="31" y="-8">99</text><text class="mn" x="271" y="-8">100</text><text class="mn" x="511" y="-8">101</text><text class="mn" x="751" y="-8">102</text>
<use href="#qA"/><use href="#qO"/><use href="#qY"/><use href="#qG"/>
<rect class="ob" x="31" y="0" width="388" height="61"/>
<text class="gy" x="270" y="76.5">175</text><text class="gn" x="270" y="90">106586</text><text class="tl" x="270" y="103">0.00%</text>
<text class="gy" x="510" y="76.5">200</text><text class="gn" x="510" y="90">108686</text><text class="tl" x="510" y="103">0.00%</text>
<text class="gy" x="750" y="76.5">200</text><text class="gn" x="750" y="90">109886</text><text class="tl" x="750" y="103">0.00%</text>
<text class="gy" x="990" y="76.5">150</text><text class="gn" x="990" y="90">110786</text><text class="tl" x="990" y="103">0.00%</text>
</g>

<g id="row25" transform="translate(0,3589.3)">
<rect class="yb" x="751" y="-10" width="180" height="81"/>
<use href="#sB"/>
<text class="tp" x="31" y="-20">♩=164</text><text class="tp" x="271" y="-20">♩=164</text><text class="tp" x="511" y="-20">♩=163</text><text class="tp" x="751" y="-20">♩=162</text>
<text class="mn" x="31" y="-8">103</text><text class="mn" x="271" y="-8">104</text><text class="mn" x="511" y="-8">105</text><text class="mn" x="751" y="-8">106</text>
<use href="#qA"/><use href="#qO"/><use href="#qY"/><use href="#qGs"/>
<rect class="og" x="751" y="0" width="180" height="61"/>
<text class="gy" x="270" y="76.5">175</text><text class="gn" x="270" y="90">111836</text><text class="tl" x="270" y="103">0.00%</text>
<text class="gy" x="510" y="76.5">200</text><text class="gn" x="510" y="90">113036</text><text class="tl" x="510" y="103">0.00%</text>
<text class="gy" x="750" y="76.5">200</text><text class="gn" x="750" y="90">114236</text><text class="tl" x="750" y="103">0.00%</text>
<text class="gy" x="990" y="76.5">150</text><text class="gn" x="990" y="90">115136</text><text class="tl" x="990" y="103">25.00%</text>
</g>

<g id="row26" transform="translate(0,3730.3)">
<use href="#sB"/>
<text class="tp" x="31" y="-20">♩=167</text><text class="tp" x="271" y="-20">♩=167</text><text class="tp" x="511" y="-20">♩=167</text><text class="tp" x="751" y="-20">♩=167</text>
<text class="mn" x="31" y="-8">107</text><text class="mn" x="271" y="-8">108</text><text class="mn" x="511" y="-8">109</text><text class="mn" x="751" y="-8">110</text>
<use href="#qA"/><use href="#qO"/><use href="#qY"/>
<use href="#n" class="g" x="751" y="0"/><use href="#n" class="g" x="781" y="0"/><use href="#n" class="g" x="811" y="0"/><use href="#n" class="g" x="841" y="0"/><use href="#n" class="g" x="871" y="0"/><use href="#n" class="g" x="901" y="0"/><use href="#n" class="g" x="931" y="0"/><use href="#n" class="g" x="961" y="0"/>
<rect class="op" x="211.5" y="0" width="12.5" height="61"/><rect class="ob" x="224" y="0" width="767" height="61"/>
<text class="gy" x="270" y="76.5">175</text><text class="gn" x="270" y="90">116486</text><text class="tl" x="270" y="103">97.90%</text>
<text class="gy" x="510" y="76.5">200</text><text class="gn" x="510" y="90">118886</text><text class="tl" x="510" y="103">85.40%</text>
<text class="gy" x="750" y="76.5">200</text><text class="gn" x="750" y="90">121286</text><text class="tl" x="750" y="103">72.90%</text>
<text class="gy" x="990" y="76.5">200</text><text class="gn" x="990" y="90">123686</text><text class="tl" x="990" y="103">60.40%</text>
</g>

<g id="row27" transform="translate(0,3871.3)">
<use href="#sB"/>
<text class="tp" x="31" y="-20">♩=167</text><text class="tp" x="271" y="-20">♩=166</text><text class="tp" x="511" y="-20">♩=166</text><text class="tp" x="751" y="-20">♩=167</text>
<text class="mn" x="31" y="-8">111</text><text class="mn" x="271" y="-8">112</text><text class="mn" x="511" y="-8">113</text><text class="mn" x="751" y="-8">114</text>
<use href="#pA"/><use href="#pG"/><use href="#pB"/>
<rect class="ob" x="31" y="0" width="960" height="61"/>
<text class="gy" x="270" y="76.5">200</text><text class="gn" x="270" y="90">126086</text><text class="tl" x="270" y="103">47.90%</text>
<text class="gy" x="510" y="76.5">200</text><text class="gn" x="510" y="90">128486</text><text class="tl" x="510" y="103">35.40%</text>
<text class="gy" x="750" y="76.5">150</text><text class="gn" x="750" y="90">130286</text><text class="tl" x="750" y="103">22.90%</text>
<text class="gy" x="990" y="76.5">175</text><text class="gn" x="990" y="90">132386</text><text class="tl" x="990" y="103">10.40%</text>
</g>

<g id="row28" transform="translate(0,4012.3)">
<use href="#sB"/>
<text class="tp" x="31" y="-20">♩=166</text><text class="tp" x="271" y="-20">♩=166</text><text class="tp" x="511" y="-20">♩=167</text><text class="tp" x="751" y="-20">♩=166</text>
<text class="mn" x="31" y="-8">115</text><text class="mn" x="271" y="-8">116</text><text class="mn" x="511" y="-8">117</text><text class="mn" x="751" y="-8">118</text>
<use href="#pA"/><use href="#pG"/><use href="#pB"/>
<rect class="ob" x="31" y="0" width="199" height="61"/><rect class="op" x="230" y="0" width="15" height="61"/>
<text class="gy" x="270" y="76.5">200</text><text class="gn" x="270" y="90">134586</text><text class="tl" x="270" y="103">0.00%</text>
<text class="gy" x="510" y="76.5">200</text><text class="gn" x="510" y="90">135786</text><text class="tl" x="510" y="103">0.00%</text>
<text class="gy" x="750" y="76.5">150</text><text class="gn" x="750" y="90">136686</text><text class="tl" x="750" y="103">0.00%</text>
<text class="gy" x="990" y="76.5">175</text><text class="gn" x="990" y="90">137736</text><text class="tl" x="990" y="103">0.00%</text>
</g>

<g id="row29" transform="translate(0,4153.3)">
<rect class="yb" x="511" y="-10" width="180" height="81"/>
<use href="#sB"/>
<text class="tp" x="31" y="-20">♩=165</text><text class="tp" x="271" y="-20">♩=166</text><text class="tp" x="511" y="-20">♩=166</text><text class="tp" x="751" y="-20">♩=167</text>
<text class="mn" x="31" y="-8">119</text><text class="mn" x="271" y="-8">120</text><text class="mn" x="511" y="-8">121</text><text class="mn" x="751" y="-8">122</text>
<use href="#pA"/><use href="#pGs"/><use href="#pB"/>
<rect class="og" x="511" y="0" width="180" height="61"/>
<text class="gy" x="270" y="76.5">200</text><text class="gn" x="270" y="90">138936</text><text class="tl" x="270" y="103">0.00%</text>
<text class="gy" x="510" y="76.5">200</text><text class="gn" x="510" y="90">140136</text><text class="tl" x="510" y="103">0.00%</text>
<text class="gy" x="750" y="76.5">150</text><text class="gn" x="750" y="90">141036</text><text class="tl" x="750" y="103">25.00%</text>
<text class="gy" x="990" y="76.5">175</text><text class="gn" x="990" y="90">142086</text><text class="tl" x="990" y="103">25.00%</text>
</g>

<g id="row30" transform="translate(0,4294.3)">
<rect class="yb" x="751" y="-10" width="180" height="81"/>
<use href="#sB"/>
<text class="tp" x="31" y="-20">♩=166</text><text class="tp" x="271" y="-20">♩=167</text><text class="tp" x="511" y="-20">♩=166</text><text class="tp" x="751" y="-20">♩=166</text>
<text class="mn" x="31" y="-8">123</text><text class="mn" x="271" y="-8">124</text><text class="mn" x="511" y="-8">125</text><text class="mn" x="751" y="-8">126</text>
<use href="#qA"/><use href="#qO"/><use href="#qY"/><use href="#qGs"/>
<rect class="og" x="751" y="0" width="180" height="61"/>
<text class="gy" x="270" y="76.5">175</text><text class="gn" x="270" y="90">143136</text><text class="tl" x="270" y="103">25.00%</text>
<text class="gy" x="510" y="76.5">200</text><text class="gn" x="510" y="90">144336</text><text class="tl" x="510" y="103">25.00%</text>
<text class="gy" x="750" y="76.5">200</text><text class="gn" x="750" y="90">145536</text><text class="tl" x="750" y="103">25.00%</text>
<text class="gy" x="990" y="76.5">150</text><text class="gn" x="990" y="90">146436</text><text class="tl" x="990" y="103">50.00%</text>
</g>

<g id="row31" transform="translate(0,4435.3)">
<use href="#sB"/>
<text class="tp" x="31" y="-20">♩=167</text><text class="tp" x="271" y="-20">♩=166</text><text class="tp" x="511" y="-20">♩=166</text><text class="tp" x="751" y="-20">♩=165</text>
<text class="mn" x="31" y="-8">127</text><text class="mn" x="271" y="-8">128</text><text class="mn" x="511" y="-8">129</text><text class="mn" x="751" y="-8">130</text>
<use href="#qA"/><use href="#qO"/><use href="#qY"/><use href="#qG"/>
<rect class="op" x="211.5" y="0" width="12.5" height="61"/><rect class="ob" x="224" y="0" width="767" height="61"/>
<text class="gy" x="270" y="76.5">175</text><text class="gn" x="270" y="90">147696</text><text class="tl" x="270" y="103">47.50%</text>
<text class="gy" x="510" y="76.5">200</text><text class="gn" x="510" y="90">150096</text><text class="tl" x="510" y="103">35.00%</text>
<text class="gy" x="750" y="76.5">200</text><text class="gn" x="750" y="90">152496</text><text class="tl" x="750" y="103">22.50%</text>
<text class="gy" x="990" y="76.5">150</text><text class="gn" x="990" y="90">154296</text><text class="tl" x="990" y="103">10.00%</text>
</g>

<g id="row32" transform="translate(0,4576.3)">
<rect class="yb" x="31" y="-10" width="120" height="81"/>
<use href="#sB"/>
<text class="tp" x="31" y="-20">♩=166</text><text class="tp" x="271" y="-20">♩=167</text><text class="tp" x="511" y="-20">♩=166</text><text class="tp" x="751" y="-20">♩=168</text>
<text class="mn" x="31" y="-8">131</text><text class="mn" x="271" y="-8">132</text><text class="mn" x="511" y="-8">133</text><text class="mn" x="751" y="-8">134</text>
<use href="#qAs"/><use href="#qO"/><use href="#qY"/><use href="#qG"/>
<rect class="og" x="31" y="0" width="120" height="61"/><rect class="ob" x="31" y="0" width="672" height="61"/>
<text class="gy" x="270" y="76.5">175</text><text class="gn" x="270" y="90">156396</text><text class="tl" x="270" y="103">22.50%</text>
<text class="gy" x="510" y="76.5">200</text><text class="gn" x="510" y="90">158796</text><text class="tl" x="510" y="103">10.00%</text>
<text class="gy" x="750" y="76.5">200</text><text class="gn" x="750" y="90">160956</text><text class="tl" x="750" y="103">0.00%</text>
<text class="gy" x="990" y="76.5">150</text><text class="gn" x="990" y="90">161856</text><text class="tl" x="990" y="103">0.00%</text>
</g>

<g id="row33" transform="translate(0,4717.3)">
<use href="#sB"/>
<text class="tp" x="31" y="-20">♩=166</text><text class="tp" x="271" y="-20">♩=166</text><text class="tp" x="511" y="-20">♩=165</text><text class="tp" x="751" y="-20">♩=166</text>
<text class="mn" x="31" y="-8">135</text><text class="mn" x="271" y="-8">136</text><text class="mn" x="511" y="-8">137</text><text class="mn" x="751" y="-8">138</text>
<use href="#qA"/><use href="#qO"/><use href="#qY"/><use href="#qG"/>
<text class="gy" x="270" y="76.5">175</text><text class="gn" x="270" y="90">162906</text><text class="tl" x="270" y="103">0.00%</text>
<text class="gy" x="510" y="76.5">200</text><text class="gn" x="510" y="90">164106</text><text class="tl" x="510" y="103">0.00%</text>
<text class="gy" x="750" y="76.5">200</text><text class="gn" x="750" y="90">165306</text><text class="tl" x="750" y="103">0.00%</text>
<text class="gy" x="990" y="76.5">150</text><text class="gn" x="990" y="90">166206</text><text class="tl" x="990" y="103">0.00%</text>
</g>

<g id="row34" transform="translate(0,4858.3)">
<use href="#sB"/>
<text class="tp" x="31" y="-20">♩=167</text><text class="tp" x="271" y="-20">♩=166</text><text class="tp" x="511" y="-20">♩=166</text><text class="tp" x="751" y="-20">♩=167</text>
<text class="mn" x="31" y="-8">139</text><text class="mn" x="271" y="-8">140</text><text class="mn" x="511" y="-8">141</text><text class="mn" x="751" y="-8">142</text>
<use href="#pA"/><use href="#pG"/><use href="#pB"/>
<text class="gy" x="270" y="76.5">200</text><text class="gn" x="270" y="90">167406</text><text class="tl" x="270" y="103">0.00%</text>
<text class="gy" x="510" y="76.5">200</text><text class="gn" x="510" y="90">168606</text><text class="tl" x="510" y="103">0.00%</text>
<text class="gy" x="750" y="76.5">150</text><text class="gn" x="750" y="90">169506</text><text class="tl" x="750" y="103">0.00%</text>
<text class="gy" x="990" y="76.5">175</text><text class="gn" x="990" y="90">170556</text><text class="tl" x="990" y="103">0.00%</text>
</g>

<g id="row35" transform="translate(0,4999.3)">
<rect class="yb" x="511" y="-10" width="180" height="81"/>
<use href="#sB"/>
<text class="tp" x="31" y="-20">♩=166</text><text class="tp" x="271" y="-20">♩=166</text><text class="tp" x="511" y="-20">♩=167</text><text class="tp" x="751" y="-20">♩=166</text>
<text class="mn" x="31" y="-8">143</text><text class="mn" x="271" y="-8">144</text><text class="mn" x="511" y="-8">145</text><text class="mn" x="751" y="-8">146</text>
<use href="#pA"/><use href="#pGs"/><use href="#pB"/>
<rect class="og" x="511" y="0" width="180" height="61"/>
<text class="gy" x="270" y="76.5">200</text><text class="gn" x="270" y="90">171756</text><text class="tl" x="270" y="103">0.00%</text>
<text class="gy" x="510" y="76.5">200</text><text class="gn" x="510" y="90">172956</text><text class="tl" x="510" y="103">0.00%</text>
<text class="gy" x="750" y="76.5">150</text><text class="gn" x="750" y="90">173856</text><text class="tl" x="750" y="103">25.00%</text>
<text class="gy" x="990" y="76.5">175</text><text class="gn" x="990" y="90">174906</text><text class="tl" x="990" y="103">25.00%</text>
</g>

<g id="row36" transform="translate(0,5140.3)">
<rect class="yb" x="511" y="-10" width="180" height="81"/>
<use href="#sB"/>
<text class="tp" x="31" y="-20">♩=165</text><text class="tp" x="271" y="-20">♩=166</text><text class="tp" x="511" y="-20">♩=166</text><text class="tp" x="751" y="-20">♩=166</text>
<text class="mn" x="31" y="-8">147</text><text class="mn" x="271" y="-8">148</text><text class="mn" x="511" y="-8">149</text><text class="mn" x="751" y="-8">150</text>
<use href="#pA"/><use href="#pGs"/><use href="#pB"/>
<rect class="og" x="511" y="0" width="180" height="61"/>
<text class="gy" x="270" y="76.5">200</text><text class="gn" x="270" y="90">176106</text><text class="tl" x="270" y="103">25.00%</text>
<text class="gy" x="510" y="76.5">200</text><text class="gn" x="510" y="90">177306</text><text class="tl" x="510" y="103">25.00%</text>
<text class="gy" x="750" y="76.5">150</text><text class="gn" x="750" y="90">178206</text><text class="tl" x="750" y="103">50.00%</text>
<text class="gy" x="990" y="76.5">175</text><text class="gn" x="990" y="90">179256</text><text class="tl" x="990" y="103">50.00%</text>
</g>

<g id="row37" transform="translate(0,5281.3)">
<rect class="yb" x="751" y="-10" width="180" height="81"/>
<use href="#sB"/>
<text class="tp" x="31" y="-20">♩=166</text><text class="tp" x="271" y="-20">♩=167</text><text class="tp" x="511" y="-20">♩=166</text><text class="tp" x="751" y="-20">♩=165</text>
<text class="mn" x="31" y="-8">151</text><text class="mn" x="271" y="-8">152</text><text class="mn" x="511" y="-8">153</text><text class="mn" x="751" y="-8">154</text>
<use href="#qA"/><use href="#qO"/><use href="#qY"/><use href="#qGs"/>
<rect class="og" x="751" y="0" width="180" height="61"/>
<text class="gy" x="270" y="76.5">175</text><text class="gn" x="270" y="90">180306</text><text class="tl" x="270" y="103">50.00%</text>
<text class="gy" x="510" y="76.5">200</text><text class="gn" x="510" y="90">181506</text><text class="tl" x="510" y="103">50.00%</text>
<text class="gy" x="750" y="76.5">200</text><text class="gn" x="750" y="90">182706</text><text class="tl" x="750" y="103">50.00%</text>
<text class="gy" x="990" y="76.5">150</text><text class="gn" x="990" y="90">183606</text><text class="tl" x="990" y="103">75.00%</text>
</g>

<g id="row38" transform="translate(0,5422.3)">
<use href="#sB"/>
<text class="tp" x="31" y="-20">♩=167</text><text class="tp" x="271" y="-20">♩=166</text><text class="tp" x="511" y="-20">♩=166</text><text class="tp" x="751" y="-20">♩=166</text>
<text class="mn" x="31" y="-8">155</text><text class="mn" x="271" y="-8">156</text><text class="mn" x="511" y="-8">157</text><text class="mn" x="751" y="-8">158</text>
<use href="#pA"/><use href="#pG"/><use href="#pB"/>
<rect class="op" x="448" y="0" width="13" height="61"/><rect class="ob" x="461" y="0" width="530" height="61"/>
<text class="gy" x="270" y="76.5">200</text><text class="gn" x="270" y="90">184806</text><text class="tl" x="270" y="103">75.00%</text>
<text class="gy" x="510" y="76.5">200</text><text class="gn" x="510" y="90">186258</text><text class="tl" x="510" y="103">72.40%</text>
<text class="gy" x="750" y="76.5">150</text><text class="gn" x="750" y="90">188058</text><text class="tl" x="750" y="103">59.90%</text>
<text class="gy" x="990" y="76.5">175</text><text class="gn" x="990" y="90">190158</text><text class="tl" x="990" y="103">47.40%</text>
</g>

<g id="row39" transform="translate(0,5563.3)">
<use href="#sB"/>
<text class="tp" x="31" y="-20">♩=166</text><text class="tp" x="271" y="-20">♩=166</text><text class="tp" x="511" y="-20">♩=167</text><text class="tp" x="751" y="-20">♩=165</text>
<text class="mn" x="31" y="-8">159</text><text class="mn" x="271" y="-8">160</text><text class="mn" x="511" y="-8">161</text><text class="mn" x="751" y="-8">162</text>
<use href="#pA"/><use href="#pG"/><use href="#pB"/>
<rect class="ob" x="31" y="0" width="912" height="61"/>
<text class="gy" x="270" y="76.5">200</text><text class="gn" x="270" y="90">192558</text><text class="tl" x="270" y="103">34.90%</text>
<text class="gy" x="510" y="76.5">200</text><text class="gn" x="510" y="90">194958</text><text class="tl" x="510" y="103">22.40%</text>
<text class="gy" x="750" y="76.5">150</text><text class="gn" x="750" y="90">196758</text><text class="tl" x="750" y="103">9.90%</text>
<text class="gy" x="990" y="76.5">175</text><text class="gn" x="990" y="90">200648</text><text class="tl" x="990" y="103">0.00%</text>
</g>
</g>
</svg>
